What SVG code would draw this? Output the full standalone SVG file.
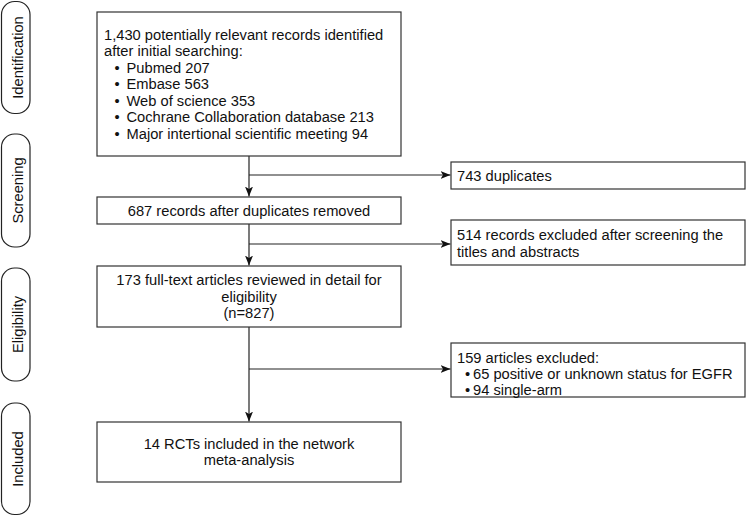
<svg xmlns="http://www.w3.org/2000/svg" width="747" height="516" viewBox="0 0 747 516">
<defs>
<marker id="ah" markerUnits="userSpaceOnUse" markerWidth="11" markerHeight="9" refX="10" refY="4" orient="auto">
<path d="M0,0 L10,4 L0,8 L2.5,4 z" fill="#111"/>
</marker>
<style>
.box{fill:#fff;stroke:#333;stroke-width:1.2}
.pill{fill:#fff;stroke:#222;stroke-width:1.2}
.t{font-family:"Liberation Sans",Arial,sans-serif;font-size:14.7px;fill:#111}
.c{text-anchor:middle}
.ln{stroke:#222;stroke-width:1.2;fill:none}
</style>
</defs>
<g id="stage-identification">
<rect class="pill" x="1.5" y="1.5" width="28.5" height="112" rx="13"/>
<text class="t c" transform="translate(22.5,57.5) rotate(-90)">Identification</text>
</g>
<g id="stage-screening">
<rect class="pill" x="1.5" y="134" width="28.5" height="113" rx="13"/>
<text class="t c" transform="translate(22.5,190.5) rotate(-90)">Screening</text>
</g>
<g id="stage-eligibility">
<rect class="pill" x="1.5" y="268" width="28.5" height="113" rx="13"/>
<text class="t c" transform="translate(22.5,324.5) rotate(-90)">Eligibility</text>
</g>
<g id="stage-included">
<rect class="pill" x="1.5" y="403" width="28.5" height="111.5" rx="13"/>
<text class="t c" transform="translate(22.5,459) rotate(-90)">Included</text>
</g>
<g id="connectors">
<line class="ln" x1="249" y1="156" x2="249" y2="196.5" marker-end="url(#ah)"/>
<line class="ln" x1="249" y1="175" x2="450.5" y2="175" marker-end="url(#ah)"/>
<line class="ln" x1="249" y1="224" x2="249" y2="265.5" marker-end="url(#ah)"/>
<line class="ln" x1="249" y1="244" x2="450.5" y2="244" marker-end="url(#ah)"/>
<line class="ln" x1="249" y1="327" x2="249" y2="421.5" marker-end="url(#ah)"/>
<line class="ln" x1="249" y1="369" x2="450.5" y2="369" marker-end="url(#ah)"/>
</g>
<g id="records-identified">
<rect class="box" x="97" y="12" width="304" height="144"/>
<text class="t" x="104" y="39.5">1,430 potentially relevant records identified</text>
<text class="t" x="104" y="56">after initial searching:</text>
<text class="t" x="114.5" y="72.5">•</text><text class="t" x="126.5" y="72.5">Pubmed 207</text>
<text class="t" x="114.5" y="89">•</text><text class="t" x="126.5" y="89">Embase 563</text>
<text class="t" x="114.5" y="105.5">•</text><text class="t" x="126.5" y="105.5">Web of science 353</text>
<text class="t" x="114.5" y="122">•</text><text class="t" x="126.5" y="122">Cochrane Collaboration database 213</text>
<text class="t" x="114.5" y="138.5">•</text><text class="t" x="126.5" y="138.5">Major intertional scientific meeting 94</text>
</g>
<g id="duplicates">
<rect class="box" x="451" y="162" width="294" height="27"/>
<text class="t" x="457" y="181">743 duplicates</text>
</g>
<g id="after-duplicates">
<rect class="box" x="97" y="197" width="304" height="27"/>
<text class="t c" x="249" y="215.5">687 records after duplicates removed</text>
</g>
<g id="excluded-screening">
<rect class="box" x="451" y="220" width="294" height="45"/>
<text class="t" x="457" y="240">514 records excluded after screening the</text>
<text class="t" x="457" y="256.5">titles and abstracts</text>
</g>
<g id="full-text">
<rect class="box" x="97" y="266" width="304" height="61"/>
<text class="t c" x="249" y="285">173 full-text articles reviewed in detail for</text>
<text class="t c" x="249" y="301.5">eligibility</text>
<text class="t c" x="249" y="318">(n=827)</text>
</g>
<g id="articles-excluded">
<rect class="box" x="451" y="343" width="294" height="54"/>
<text class="t" x="457" y="363">159 articles excluded:</text>
<text class="t" x="465" y="379">•</text><text class="t" x="473" y="379">65 positive or unknown status for EGFR</text>
<text class="t" x="465" y="394.5">•</text><text class="t" x="473" y="394.5">94 single-arm</text>
</g>
<g id="included-rcts">
<rect class="box" x="97" y="422" width="304" height="60"/>
<text class="t c" x="249" y="448.5">14 RCTs included in the network</text>
<text class="t c" x="249" y="465">meta-analysis</text>
</g>
</svg>
